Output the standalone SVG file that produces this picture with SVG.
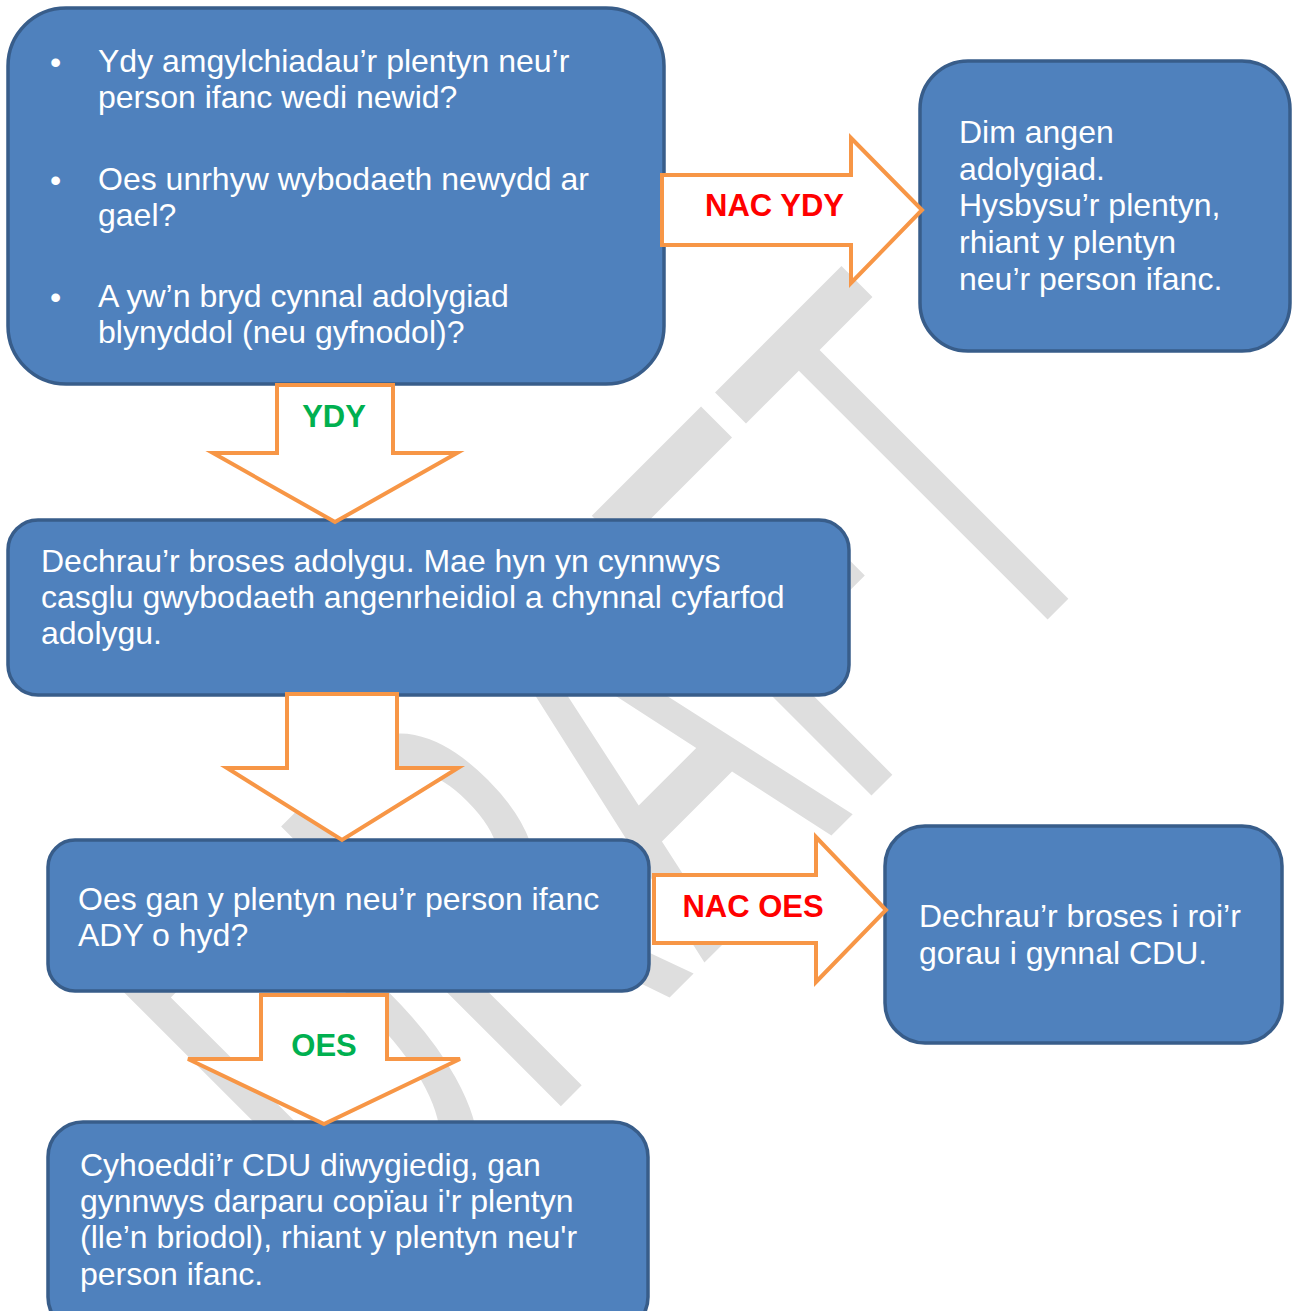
<svg xmlns="http://www.w3.org/2000/svg" width="1295" height="1311" viewBox="0 0 1295 1311">
<style>
.box{fill:#4f81bd;stroke:#385d8a;stroke-width:3.5}
.t{font-family:"Liberation Sans",Arial,sans-serif;font-size:32px;fill:#ffffff}
.arrow{fill:#ffffff;stroke:#f79646;stroke-width:4;stroke-linejoin:miter}
.lbl{font-family:"Liberation Sans",Arial,sans-serif;font-size:31px;font-weight:bold;text-anchor:middle}
.red{fill:#ff0000}
.green{fill:#00b050}
.wm{font-family:"Liberation Sans",Arial,sans-serif;font-size:575px;fill:#dedede}
</style>
<rect width="1295" height="1311" fill="#ffffff"/>
<g id="watermark"><text class="wm" transform="translate(381,1286) rotate(-45) scale(0.55,1)">DRAFT</text></g>

<g id="node-questions">
<rect class="box" x="8" y="8" width="656" height="376" rx="58"/>
<text class="t" x="50" y="73">•</text>
<text class="t" x="98" y="72">Ydy amgylchiadau’r plentyn neu’r</text>
<text class="t" x="98" y="108">person ifanc wedi newid?</text>
<text class="t" x="50" y="191">•</text>
<text class="t" x="98" y="190">Oes unrhyw wybodaeth newydd ar</text>
<text class="t" x="98" y="226">gael?</text>
<text class="t" x="50" y="308">•</text>
<text class="t" x="98" y="307">A yw’n bryd cynnal adolygiad</text>
<text class="t" x="98" y="343">blynyddol (neu gyfnodol)?</text>
</g>

<g id="node-no-review">
<rect class="box" x="920" y="61" width="370" height="290" rx="48"/>
<text class="t" x="959" y="143">Dim angen</text>
<text class="t" x="959" y="180">adolygiad.</text>
<text class="t" x="959" y="216">Hysbysu’r plentyn,</text>
<text class="t" x="959" y="253">rhiant y plentyn</text>
<text class="t" x="959" y="290">neu’r person ifanc.</text>
</g>

<g id="node-start-review">
<rect class="box" x="8" y="520" width="841" height="175" rx="30"/>
<text class="t" x="41" y="572">Dechrau’r broses adolygu. Mae hyn yn cynnwys</text>
<text class="t" x="41" y="608">casglu gwybodaeth angenrheidiol a chynnal cyfarfod</text>
<text class="t" x="41" y="644">adolygu.</text>
</g>

<g id="node-still-aln">
<rect class="box" x="48" y="840" width="601" height="151" rx="27"/>
<text class="t" x="78" y="910">Oes gan y plentyn neu’r person ifanc</text>
<text class="t" x="78" y="946">ADY o hyd?</text>
</g>

<g id="node-publish">
<rect class="box" x="48" y="1122" width="600" height="210" rx="35"/>
<text class="t" x="80" y="1176">Cyhoeddi’r CDU diwygiedig, gan</text>
<text class="t" x="80" y="1212">gynnwys darparu copïau i'r plentyn</text>
<text class="t" x="80" y="1248">(lle’n briodol), rhiant y plentyn neu'r</text>
<text class="t" x="80" y="1285">person ifanc.</text>
</g>

<g id="node-cease">
<rect class="box" x="885" y="826" width="397" height="217" rx="40"/>
<text class="t" x="919" y="927">Dechrau’r broses i roi’r</text>
<text class="t" x="919" y="964">gorau i gynnal CDU.</text>
</g>

<g id="connectors">
<g id="arrow-nac-ydy">
<polygon class="arrow" points="662,175 851,175 851,138 922,210 851,283 851,245 662,245"/>
<text class="lbl red" x="774.5" y="216">NAC YDY</text>
</g>
<g id="arrow-ydy">
<polygon class="arrow" points="277,385 393,385 393,453 457,453 335,522 213,453 277,453"/>
<text class="lbl green" x="334" y="427">YDY</text>
</g>
<g id="arrow-review-next">
<polygon class="arrow" points="287,694 397,694 397,768 458,768 342,840 227,768 287,768"/>
</g>
<g id="arrow-oes">
<polygon class="arrow" points="261,995 387,995 387,1059 460,1059 324,1124 188,1059 261,1059"/>
<text class="lbl green" x="324" y="1056">OES</text>
</g>
<g id="arrow-nac-oes">
<polygon class="arrow" points="654,875 816,875 816,837 886,910 816,982 816,943 654,943"/>
<text class="lbl red" x="753" y="917">NAC OES</text>
</g>
</g>
</svg>
